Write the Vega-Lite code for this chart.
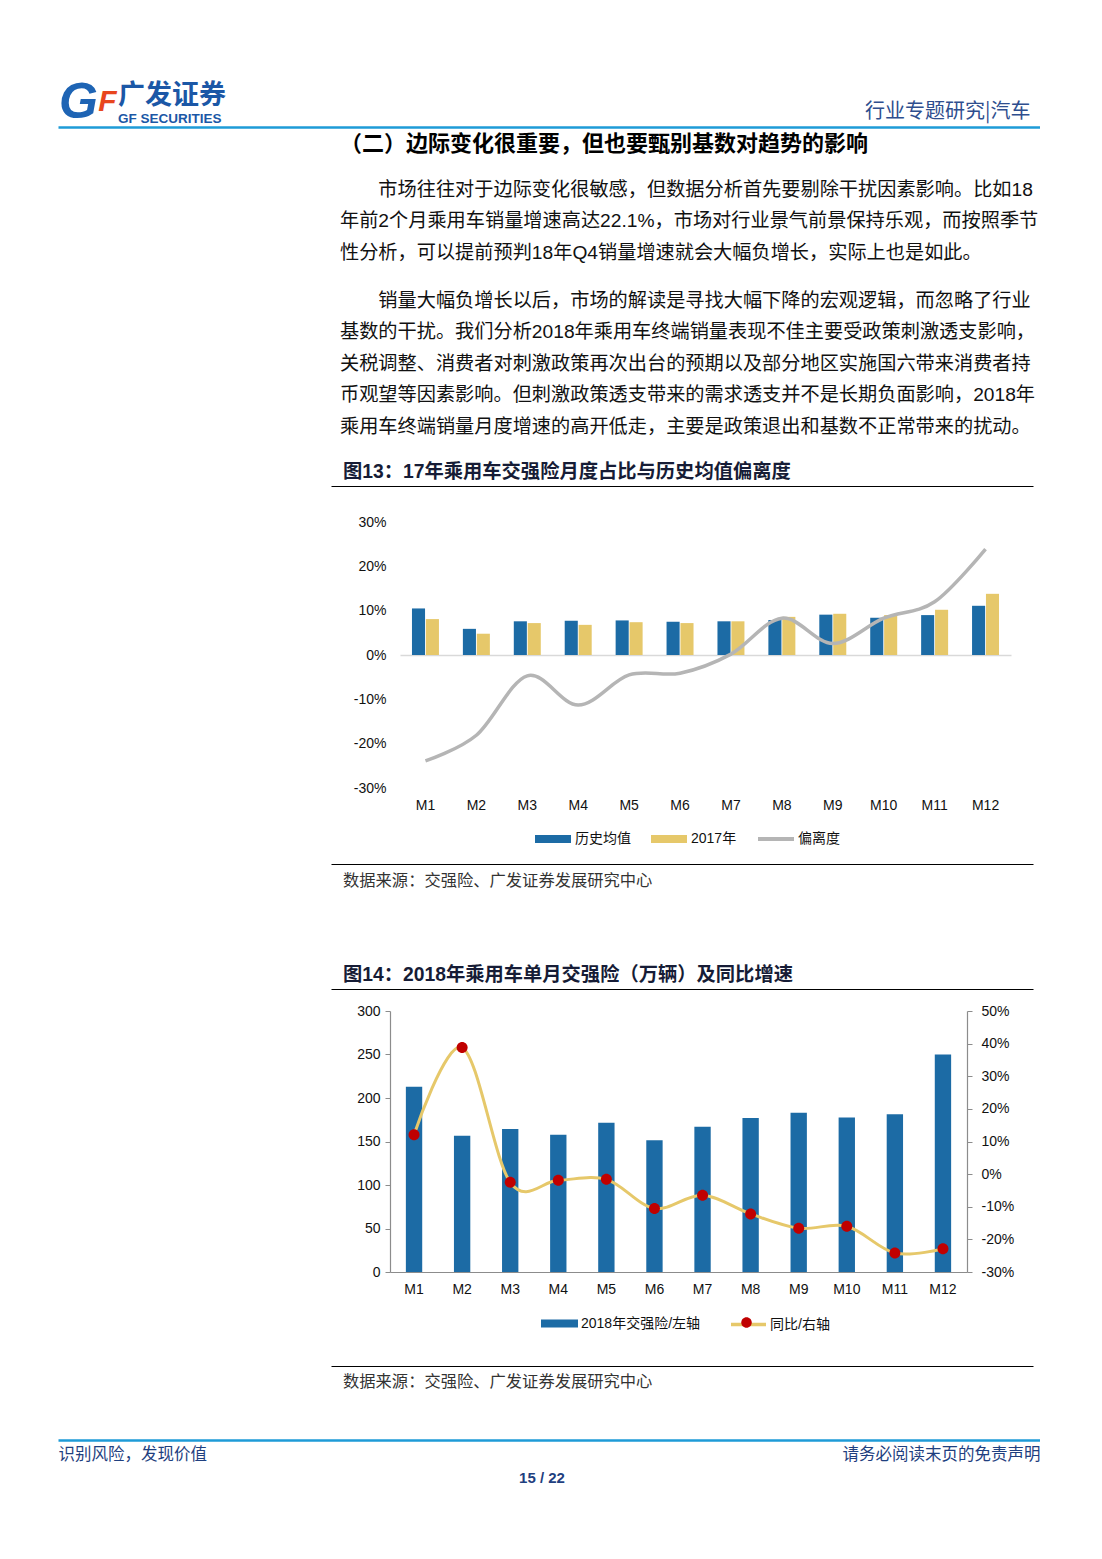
{
  "$schema": "https://vega.github.io/schema/vega-lite/v6.json",
  "background": "#ffffff",
  "padding": {"left": 58, "top": 77, "right": 0, "bottom": 0},
  "spacing": 0,
  "resolve": {
    "scale": {"fill": "independent", "stroke": "independent", "shape": "independent"},
    "legend": {"fill": "independent", "stroke": "independent", "shape": "independent"}
  },
  "datasets": {
    "c1": [
      {"m": "M1", "series": "历史均值", "v": 0.105}, {"m": "M1", "series": "2017年", "v": 0.081},
      {"m": "M2", "series": "历史均值", "v": 0.059}, {"m": "M2", "series": "2017年", "v": 0.048},
      {"m": "M3", "series": "历史均值", "v": 0.076}, {"m": "M3", "series": "2017年", "v": 0.072},
      {"m": "M4", "series": "历史均值", "v": 0.077}, {"m": "M4", "series": "2017年", "v": 0.068},
      {"m": "M5", "series": "历史均值", "v": 0.078}, {"m": "M5", "series": "2017年", "v": 0.074},
      {"m": "M6", "series": "历史均值", "v": 0.075}, {"m": "M6", "series": "2017年", "v": 0.072},
      {"m": "M7", "series": "历史均值", "v": 0.076}, {"m": "M7", "series": "2017年", "v": 0.076},
      {"m": "M8", "series": "历史均值", "v": 0.079}, {"m": "M8", "series": "2017年", "v": 0.086},
      {"m": "M9", "series": "历史均值", "v": 0.091}, {"m": "M9", "series": "2017年", "v": 0.093},
      {"m": "M10", "series": "历史均值", "v": 0.084}, {"m": "M10", "series": "2017年", "v": 0.090},
      {"m": "M11", "series": "历史均值", "v": 0.090}, {"m": "M11", "series": "2017年", "v": 0.102},
      {"m": "M12", "series": "历史均值", "v": 0.111}, {"m": "M12", "series": "2017年", "v": 0.138}
    ],
    "c1dev": [
      {"m": "M1", "d": -0.239}, {"m": "M2", "d": -0.181}, {"m": "M3", "d": -0.047},
      {"m": "M4", "d": -0.113}, {"m": "M5", "d": -0.045}, {"m": "M6", "d": -0.041},
      {"m": "M7", "d": 0.002}, {"m": "M8", "d": 0.083}, {"m": "M9", "d": 0.026},
      {"m": "M10", "d": 0.083}, {"m": "M11", "d": 0.120}, {"m": "M12", "d": 0.239}
    ],
    "c2": [
      {"m": "M1", "v": 212.8, "r": 0.121}, {"m": "M2", "v": 156.7, "r": 0.388},
      {"m": "M3", "v": 164.3, "r": -0.025}, {"m": "M4", "v": 157.8, "r": -0.019},
      {"m": "M5", "v": 171.6, "r": -0.016}, {"m": "M6", "v": 151.3, "r": -0.105},
      {"m": "M7", "v": 167.0, "r": -0.065}, {"m": "M8", "v": 177.0, "r": -0.122},
      {"m": "M9", "v": 183.0, "r": -0.166}, {"m": "M10", "v": 177.7, "r": -0.160},
      {"m": "M11", "v": 181.2, "r": -0.242}, {"m": "M12", "v": 250.0, "r": -0.229}
    ]
  },
  "vconcat": [
    {
      "width": 982, "height": 5,
      "data": {"values": []},
      "title": {"text": "广发证券", "subtitle": "GF SECURITIES", "orient": "top", "anchor": "start", "frame": "group", "dx": 60, "offset": -49.5, "font": "Noto Sans CJK SC", "fontSize": 27, "fontWeight": "bold", "color": "#1B57A6", "subtitleFont": "Liberation Sans", "subtitleFontSize": 13.5, "subtitleFontWeight": "bold", "subtitleColor": "#1B57A6", "subtitlePadding": 2, "limit": 1000},
      "layer": [
        {"mark": "rule", "encoding": {
          "x": {"field": "a", "type": "quantitative", "scale": {"domain": [0, 1]}, "axis": {"orient": "top", "domain": true, "domainColor": "#1E9BD7", "domainWidth": 2.5, "ticks": false, "labels": false, "grid": false, "title": "行业专题研究|汽车", "titleX": 972, "titleY": -16, "titleAlign": "right", "titleBaseline": "middle", "titleFont": "Noto Sans CJK SC", "titleFontSize": 20, "titleFontWeight": "normal", "titleColor": "#2E4E8E"}},
          "y": {"field": "b", "type": "quantitative", "scale": {"domain": [0, 1]}, "axis": {"orient": "left", "domain": false, "ticks": false, "labels": false, "grid": false, "minExtent": 0, "maxExtent": 0, "title": "G", "titleAngle": 0, "titleX": 20, "titleY": -25, "titleAlign": "center", "titleBaseline": "middle", "titleFont": "Liberation Sans", "titleFontSize": 50, "titleFontWeight": "bold", "titleFontStyle": "italic", "titleColor": "#1E64B4"}}
        }},
        {"mark": "rule", "encoding": {
          "y": {"field": "c", "type": "quantitative", "scale": {"domain": [0, 1]}, "axis": {"orient": "right", "domain": false, "ticks": false, "labels": false, "grid": false, "minExtent": 0, "maxExtent": 0, "title": "F", "titleAngle": 0, "titleX": -933, "titleY": -26, "titleAlign": "center", "titleBaseline": "middle", "titleFont": "Liberation Sans", "titleFontSize": 30, "titleFontWeight": "bold", "titleFontStyle": "italic", "titleColor": "#E8461E"}}
        }}
      ],
      "resolve": {"scale": {"y": "independent"}}
    },
    {
      "width": 982, "height": 27,
      "data": {"values": []},
      "mark": "rule", "encoding": {},
      "title": {
        "text": "（二）边际变化很重要，但也要甄别基数对趋势的影响",
        "subtitle": [
          "​　　市场往往对于边际变化很敏感，但数据分析首先要剔除干扰因素影响。比如18",
          "年前2个月乘用车销量增速高达22.1%，市场对行业景气前景保持乐观，而按照季节",
          "性分析，可以提前预判18年Q4销量增速就会大幅负增长，实际上也是如此。"
        ],
        "orient": "top", "anchor": "start", "frame": "group", "dx": 282, "offset": 0,
        "font": "Noto Sans CJK SC", "fontSize": 22, "fontWeight": "bold", "color": "#000000",
        "subtitleFont": "Liberation Sans, Noto Sans CJK SC", "subtitleFontSize": 19.2, "subtitleColor": "#111111", "subtitleLineHeight": 31.5, "subtitlePadding": 25, "subtitleFontWeight": "normal", "limit": 1000
      }
    },
    {
      "width": 982, "height": 25,
      "data": {"values": []},
      "mark": "rule", "encoding": {},
      "title": {
        "text": [
          "​　　销量大幅负增长以后，市场的解读是寻找大幅下降的宏观逻辑，而忽略了行业",
          "基数的干扰。我们分析2018年乘用车终端销量表现不佳主要受政策刺激透支影响，",
          "关税调整、消费者对刺激政策再次出台的预期以及部分地区实施国六带来消费者持",
          "币观望等因素影响。但刺激政策透支带来的需求透支并不是长期负面影响，2018年",
          "乘用车终端销量月度增速的高开低走，主要是政策退出和基数不正常带来的扰动。"
        ],
        "orient": "top", "anchor": "start", "frame": "group", "dx": 282, "offset": 0,
        "font": "Liberation Sans, Noto Sans CJK SC", "fontSize": 19.2, "fontWeight": "normal", "color": "#111111", "lineHeight": 31.5, "limit": 1000
      }
    },
    {
      "width": 982, "height": 29,
      "data": {"values": []},
      "mark": "rule",
      "encoding": {"x": {"field": "a", "type": "quantitative", "scale": {"domain": [0, 1], "range": [273, 975]}, "axis": {"orient": "top", "domain": true, "domainColor": "#000000", "domainWidth": 1.2, "ticks": false, "labels": false, "grid": false, "title": null}}},
      "title": {"text": "图13：17年乘用车交强险月度占比与历史均值偏离度", "orient": "top", "anchor": "start", "frame": "group", "dx": 285, "offset": 4, "font": "Liberation Sans, Noto Sans CJK SC", "fontSize": 19.3, "fontWeight": "bold", "color": "#161C36", "limit": 1000}
    },
    {
      "width": 982, "height": 133,
      "layer": [
        {
          "data": {"name": "c1"},
          "mark": {"type": "bar"},
          "encoding": {
            "x": {"field": "m", "type": "nominal", "sort": null,
              "scale": {"domain": ["M1","M2","M3","M4","M5","M6","M7","M8","M9","M10","M11","M12"], "range": [342, 953], "paddingInner": 0.47, "paddingOuter": 0.235},
              "axis": {"title": null, "orient": "bottom", "domain": true, "domainColor": "#D9D9D9", "domainWidth": 1.5, "ticks": false, "labelPadding": 143, "labelAngle": 0, "labelOverlap": false, "labelFont": "Liberation Sans", "labelFontSize": 14, "labelColor": "#111111"}},
            "xOffset": {"field": "series", "type": "nominal", "sort": null, "scale": {"domain": ["历史均值", "2017年"], "paddingInner": 0.06}},
            "y": {"field": "v", "type": "quantitative",
              "scale": {"domain": [-0.3, 0.3], "range": [266, 0], "nice": false},
              "axis": {"title": null, "orient": "left", "offset": -328, "domain": false, "ticks": false, "grid": false, "labelPadding": 0, "labelOverlap": false, "tickCount": 20, "values": [-0.3, -0.2, -0.1, 0, 0.1, 0.2, 0.3], "format": ".0%", "labelExpr": "replace(datum.label, '−', '-')", "labelFont": "Liberation Sans", "labelFontSize": 14, "labelColor": "#111111"}},
            "fill": {"field": "series", "type": "nominal",
              "scale": {"domain": ["历史均值", "2017年"], "range": ["#1C6BA5", "#E6C86A"]},
              "legend": {"title": null, "orient": "none", "legendX": 477, "legendY": 299, "direction": "horizontal", "symbolType": "M-1,-0.22H1V0.22H-1Z", "symbolSize": 1296, "symbolStrokeWidth": 0, "labelOffset": 4, "columnPadding": 20, "labelFontSize": 14, "padding": 0}}
          }
        },
        {
          "data": {"name": "c1dev"},
          "mark": {"type": "line", "interpolate": "cardinal", "strokeWidth": 3.5},
          "encoding": {
            "x": {"field": "m", "type": "nominal", "sort": null},
            "y": {"field": "d", "type": "quantitative"},
            "stroke": {"datum": "偏离度", "type": "nominal",
              "scale": {"domain": ["偏离度"], "range": ["#B5B5B5"]},
              "legend": {"title": null, "orient": "none", "legendX": 698, "legendY": 297, "direction": "horizontal", "symbolType": "stroke", "symbolSize": 1296, "symbolStrokeWidth": 4, "labelOffset": 2, "labelFontSize": 14, "padding": 0}}
          }
        }
      ],
      "resolve": {"legend": {"fill": "independent", "stroke": "independent"}}
    },
    {
      "width": 982, "height": 17,
      "data": {"values": []},
      "mark": "rule",
      "encoding": {"x": {"field": "a", "type": "quantitative", "scale": {"domain": [0, 1], "range": [273, 975]}, "axis": {"orient": "bottom", "domain": true, "domainColor": "#000000", "domainWidth": 1.2, "ticks": false, "labels": false, "grid": false, "title": null}}},
      "title": {"text": "数据来源：交强险、广发证券发展研究中心", "orient": "bottom", "anchor": "start", "frame": "group", "dx": 285, "offset": 9, "font": "Noto Sans CJK SC", "fontSize": 16.3, "fontWeight": "normal", "color": "#333333", "limit": 1000}
    },
    {
      "width": 982, "height": 75,
      "data": {"values": []},
      "mark": "rule", "encoding": {}
    },
    {
      "width": 982, "height": 15,
      "data": {"values": []},
      "mark": "rule",
      "encoding": {"x": {"field": "a", "type": "quantitative", "scale": {"domain": [0, 1], "range": [273, 975]}, "axis": {"orient": "top", "domain": true, "domainColor": "#000000", "domainWidth": 1.2, "ticks": false, "labels": false, "grid": false, "title": null}}},
      "title": {"text": "图14：2018年乘用车单月交强险（万辆）及同比增速", "orient": "top", "anchor": "start", "frame": "group", "dx": 285, "offset": 4, "font": "Liberation Sans, Noto Sans CJK SC", "fontSize": 19.3, "fontWeight": "bold", "color": "#161C36", "limit": 1000}
    },
    {
      "width": 982, "height": 261,
      "layer": [
        {
          "data": {"name": "c2"},
          "mark": {"type": "bar"},
          "encoding": {
            "x": {"field": "m", "type": "nominal", "sort": null,
              "scale": {"domain": ["M1","M2","M3","M4","M5","M6","M7","M8","M9","M10","M11","M12"], "range": [332, 909], "paddingInner": 0.66, "paddingOuter": 0.33},
              "axis": {"title": null, "orient": "bottom", "domain": true, "domainColor": "#8C8C8C", "domainWidth": 1.2, "ticks": false, "labelPadding": 10, "labelAngle": 0, "labelOverlap": false, "labelFont": "Liberation Sans", "labelFontSize": 14, "labelColor": "#111111"}},
            "y": {"field": "v", "type": "quantitative",
              "scale": {"domain": [0, 300], "nice": false},
              "axis": {"title": null, "orient": "left", "offset": -332, "domain": true, "domainColor": "#8C8C8C", "domainWidth": 1.2, "ticks": true, "tickColor": "#8C8C8C", "tickSize": 5, "grid": false, "labelPadding": 5, "labelOverlap": false, "tickCount": 20, "values": [0, 50, 100, 150, 200, 250, 300], "labelFont": "Liberation Sans", "labelFontSize": 14, "labelColor": "#111111"}},
            "fill": {"datum": "2018年交强险/左轴", "type": "nominal",
              "scale": {"domain": ["2018年交强险/左轴"], "range": ["#1C6BA5"]},
              "legend": {"title": null, "orient": "none", "legendX": 483, "legendY": 294, "direction": "horizontal", "symbolType": "M-1,-0.22H1V0.22H-1Z", "symbolSize": 1369, "symbolStrokeWidth": 0, "labelOffset": 3, "labelFontSize": 14, "padding": 0}}
          }
        },
        {
          "data": {"name": "c2"},
          "layer": [
            {
              "mark": {"type": "line", "interpolate": "cardinal", "strokeWidth": 3},
              "encoding": {
                "x": {"field": "m", "type": "nominal", "sort": null},
                "y": {"field": "r", "type": "quantitative",
                  "scale": {"domain": [-0.3, 0.5], "nice": false},
                  "axis": {"title": null, "orient": "right", "offset": -73, "domain": true, "domainColor": "#8C8C8C", "domainWidth": 1.2, "ticks": true, "tickColor": "#8C8C8C", "tickSize": 5, "grid": false, "labelPadding": 9, "labelOverlap": false, "tickCount": 20, "values": [-0.3, -0.2, -0.1, 0, 0.1, 0.2, 0.3, 0.4, 0.5], "format": ".0%", "labelExpr": "replace(datum.label, '−', '-')", "labelFont": "Liberation Sans", "labelFontSize": 14, "labelColor": "#111111"}},
                "stroke": {"datum": "同比/右轴", "type": "nominal",
                  "scale": {"domain": ["同比/右轴"], "range": ["#E6C86A"]},
                  "legend": {"title": null, "orient": "none", "legendX": 671, "legendY": 294, "direction": "horizontal", "symbolType": "stroke", "symbolSize": 1225, "symbolStrokeWidth": 3.5, "labelOffset": 2, "labelFontSize": 14, "padding": 0}}
              }
            },
            {
              "mark": {"type": "point", "filled": true, "fill": "#C00000", "strokeWidth": 0, "opacity": 1, "size": 1344},
              "encoding": {
                "x": {"field": "m", "type": "nominal", "sort": null},
                "y": {"field": "r", "type": "quantitative"},
                "shape": {"datum": "同比", "type": "nominal",
                  "scale": {"domain": ["同比"], "range": ["M-0.3,0A0.3,0.3,0,1,1,0.3,0A0.3,0.3,0,1,1,-0.3,0Z"]},
                  "legend": {"title": null, "orient": "none", "legendX": 671, "legendY": 294, "direction": "horizontal", "symbolSize": 1225, "symbolFillColor": "#C00000", "symbolStrokeWidth": 0, "labelOffset": 0, "labelExpr": "''", "labelFontSize": 14, "padding": 0}}
              }
            }
          ]
        }
      ],
      "resolve": {"scale": {"y": "independent"}, "legend": {"fill": "independent", "stroke": "independent", "shape": "independent"}}
    },
    {
      "width": 982, "height": 34,
      "data": {"values": []},
      "mark": "rule",
      "encoding": {"x": {"field": "a", "type": "quantitative", "scale": {"domain": [0, 1], "range": [273, 975]}, "axis": {"orient": "bottom", "domain": true, "domainColor": "#000000", "domainWidth": 1.2, "ticks": false, "labels": false, "grid": false, "title": null}}},
      "title": {"text": "数据来源：交强险、广发证券发展研究中心", "orient": "bottom", "anchor": "start", "frame": "group", "dx": 285, "offset": 8, "font": "Noto Sans CJK SC", "fontSize": 16.3, "fontWeight": "normal", "color": "#333333", "limit": 1000}
    },
    {
      "width": 982, "height": 49,
      "data": {"values": []},
      "mark": "rule", "encoding": {}
    },
    {
      "width": 982, "height": 1,
      "data": {"values": []},
      "mark": "rule",
      "encoding": {
        "x": {"field": "a", "type": "quantitative", "scale": {"domain": [0, 1]}, "axis": {"orient": "top", "domain": true, "domainColor": "#1E9BD7", "domainWidth": 2.5, "ticks": false, "labels": false, "grid": false, "title": "请务必阅读末页的免责声明", "titleX": 982, "titleY": 14, "titleAlign": "right", "titleBaseline": "middle", "titleFont": "Noto Sans CJK SC", "titleFontSize": 16.5, "titleFontWeight": "normal", "titleColor": "#1F3F7F"}},
        "y": {"field": "b", "type": "quantitative", "scale": {"domain": [0, 1]}, "axis": {"orient": "left", "domain": false, "ticks": false, "labels": false, "grid": false, "minExtent": 0, "maxExtent": 0, "title": "识别风险，发现价值", "titleAngle": 0, "titleX": 0, "titleY": 14, "titleAlign": "left", "titleBaseline": "middle", "titleFont": "Noto Sans CJK SC", "titleFontSize": 16.5, "titleFontWeight": "normal", "titleColor": "#1F3F7F"}}
      },
      "title": {"text": "15 / 22", "orient": "bottom", "anchor": "middle", "frame": "group", "dx": -7, "offset": 8, "font": "Liberation Sans", "fontSize": 15, "fontWeight": "bold", "color": "#1F3F7F"}
    }
  ],
  "config": {
    "view": {"stroke": null},
    "font": "Liberation Sans, Noto Sans CJK SC",
    "axis": {"grid": false, "labelOverlap": false, "labelFont": "Liberation Sans, Noto Sans CJK SC", "titleFont": "Noto Sans CJK SC"},
    "axisX": {"minExtent": 0},
    "axisY": {"minExtent": 0},
    "legend": {"padding": 0, "labelFont": "Liberation Sans, Noto Sans CJK SC", "labelFontSize": 14, "labelColor": "#111111"},
    "title": {"limit": 1000}
  }
}
